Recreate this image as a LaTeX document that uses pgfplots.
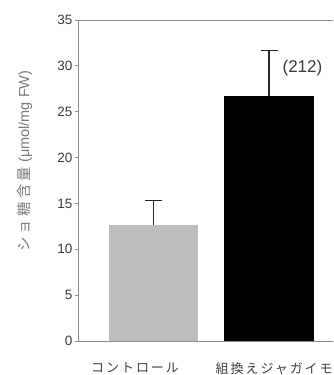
\documentclass[border=0pt]{standalone}
\usepackage{pgfplots}
\pgfplotsset{compat=1.18}
\usepackage{fontspec}
\setmainfont{Liberation Sans}
\newfontfamily\jpx[LetterSpace=15]{Noto Sans CJK JP}
\newfontfamily\jpy[LetterSpace=22]{Noto Sans CJK JP}
\definecolor{barg}{HTML}{BDBDBD}
\definecolor{axg}{HTML}{8C8C8C}
\definecolor{txt}{HTML}{3A3A3A}
\definecolor{lab}{HTML}{7A7A7A}
\begin{document}
\begin{tikzpicture}
\useasboundingbox (0,0) rectangle (333pt,375pt);
\clip (0,0) rectangle (333pt,375pt);
\begin{axis}[
  at={(78pt,34pt)}, anchor=south west,
  scale only axis, width=267pt, height=321pt,
  xmin=-0.654, xmax=1.658, ymin=0, ymax=35,
  ytick={0,5,...,35},
  xtick={-0.16,1.045},
  xticklabels={コントロール,組換えジャガイモ},
  ytick pos=left,
  tick align=outside,
  major x tick style={draw=none},
  major tick length=3pt,
  tick style={axg, line width=0.8pt},
  axis line style={axg, line width=1pt},
  /pgf/number format/assume math mode=true,
  y tick label style={font=\fontsize{13.5}{13.5}\selectfont, text=txt, xshift=1pt},
  x tick label style={font=\jpx\fontsize{13}{15}\selectfont, text=black!75, yshift=-15pt},
  ylabel={{\jpy ショ糖含量} (μmol/mg FW)},
  y label style={at={(axis description cs:-0.2,0.56)}, anchor=center, font=\fontsize{14.5}{14.5}\selectfont, text=lab},
]
\addplot[ybar, bar shift=0pt, bar width=0.775, fill=barg, draw=none,
  error bars/.cd, y dir=plus, y explicit,
  error bar style={line width=1.5pt, black!85},
  error mark options={rotate=90, mark size=8.5pt, line width=1.5pt, black!85}]
  coordinates {(0,12.6) +- (0,2.7)};
\addplot[ybar, bar shift=0pt, bar width=0.775, fill=black, draw=none,
  error bars/.cd, y dir=plus, y explicit,
  error bar style={line width=1.5pt, black!85},
  error mark options={rotate=90, mark size=8.5pt, line width=1.5pt, black!85}]
  coordinates {(1,26.7) +- (0,5.0)};
\node[anchor=west, font=\fontsize{17}{17}\selectfont, text=txt] at (axis cs:1.087,29.8) {(212)};
\end{axis}
\end{tikzpicture}
\end{document}
